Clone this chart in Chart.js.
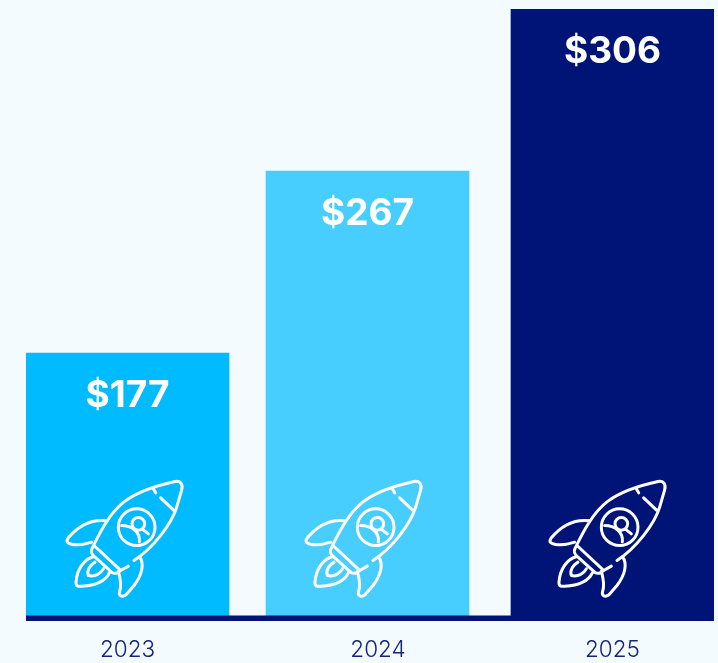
<!DOCTYPE html>
<html><head><meta charset="utf-8">
<script src="https://cdn.jsdelivr.net/npm/chart.js@4"></script>
<style>html,body{margin:0;padding:0;background:#F4FBFF;overflow:hidden}canvas{display:block}</style>
</head><body><canvas id="c" width="718" height="663"></canvas>
<script>
const years = [2023, 2024, 2025];
const values = [177, 267, 306];
const barColors = ['#00BBFF', '#48CDFF', '#001478'];
// The reference's bars are not proportional to their values: height share at each value.
const heightStops = [0, 177, 267, 306];
const heightShares = [0, 0.4356, 0.7342, 1];

class PiecewiseScale extends Chart.LinearScale {
  getPixelForValue(v) {
    let i = 1;
    while (i < heightStops.length - 1 && v > heightStops[i]) i++;
    const t = (v - heightStops[i-1]) / (heightStops[i] - heightStops[i-1]);
    const share = heightShares[i-1] + t * (heightShares[i] - heightShares[i-1]);
    return this.bottom - share * (this.bottom - this.top);
  }
}
PiecewiseScale.id = 'piecewise';
PiecewiseScale.defaults = {};
Chart.register(PiecewiseScale);

const rocket = new Path2D(
  'M312 300 C370 262 425 190 440 140 L455 88 C460 70 450 60 435 63 C385 74 325 92 285 122 C240 155 210 215 187 262 ' +
  'C180 275 185 282 195 290 L245 335 C255 342 262 338 272 330 L295 317 ' +
  'M192 255 L268 326 ' +
  'M232 181 C190 175 150 190 115 232 C105 245 115 250 128 252 C150 255 170 250 185 245 ' +
  'M328 288 C345 310 335 345 312 375 L288 403 C275 412 265 405 269 392 C276 372 270 350 265 332 ' +
  'M192 288 C160 295 140 330 138 365 C137 378 145 378 155 377 C195 375 225 365 238 337 ' +
  'M195 305 C178 315 170 332 175 345 C195 350 212 340 220 325 ' +
  'M370 85 L377 97 M392 112 L430 148 ' +
  'M375 200 A55 55 0 1 1 265 200 A55 55 0 1 1 375 200 ' +
  'M344 190 A19 19 0 1 1 306 190 A19 19 0 1 1 344 190 ' +
  'M275 195 C305 195 332 215 328 244 M340 208 L355 220'
);
const rocketOffsets = [0, -1, -2];

const barPlugin = {
  id: 'barDecor',
  afterDatasetsUpdate(chart) {
    chart.getDatasetMeta(0).data[1].x -= 2.5;
    const items = chart.scales.x.getLabelItems(chart.chartArea);
    if (items[1]) items[1].options.translation[0] += 8;
  },
  afterDatasetsDraw(chart) {
    const ctx = chart.ctx;
    const xs = chart.scales.x;
    const base = chart.scales.y.getPixelForValue(0);
    chart.getDatasetMeta(0).data.forEach((bar, i) => {
      ctx.save();
      ctx.fillStyle = '#FFFFFF';
      ctx.font = '700 37px Inter';
      ctx.textAlign = 'center';
      ctx.textBaseline = 'middle';
      ctx.fillText('$' + values[i], bar.x, bar.y + 43);
      ctx.translate(bar.x - 97.5 + rocketOffsets[i], base - 158);
      ctx.scale(1/3, 1/3);
      ctx.strokeStyle = '#FFFFFF';
      ctx.lineWidth = 9;
      ctx.lineCap = 'round';
      ctx.lineJoin = 'round';
      ctx.stroke(rocket);
      ctx.restore();
    });
    ctx.save();
    ctx.fillStyle = '#001478';
    ctx.fillRect(xs.left, base - 3, xs.right - xs.left, 5.5);
    ctx.restore();
  }
};

new Chart(document.getElementById('c'), {
  type: 'bar',
  data: {
    datasets: [{
      data: years.map((y, i) => ({x: y, y: values[i]})),
      backgroundColor: barColors,
      borderWidth: 0,
      barThickness: 203
    }]
  },
  options: {
    responsive: false,
    animation: false,
    layout: {padding: {left: 26, right: 4, top: 9, bottom: 0}},
    plugins: {legend: {display: false}, tooltip: {enabled: false}},
    scales: {
      x: {
        type: 'linear',
        offset: false,
        min: 2023 - 0.4186,
        max: 2025 + 0.4186,
        afterBuildTicks: s => { s.ticks = years.map(v => ({value: v})); },
        afterFit: s => { s.height = 44.5; },
        grid: {display: false, drawTicks: false},
        border: {display: false},
        ticks: {
          callback: v => String(v),
          color: '#14237F',
          font: {family: 'Inter', size: 22.5, weight: '300'},
          padding: 18,
          maxRotation: 0,
          autoSkip: false
        }
      },
      y: {
        type: 'piecewise',
        min: 0,
        max: 306,
        display: false
      }
    }
  },
  plugins: [barPlugin]
});
</script></body></html>
